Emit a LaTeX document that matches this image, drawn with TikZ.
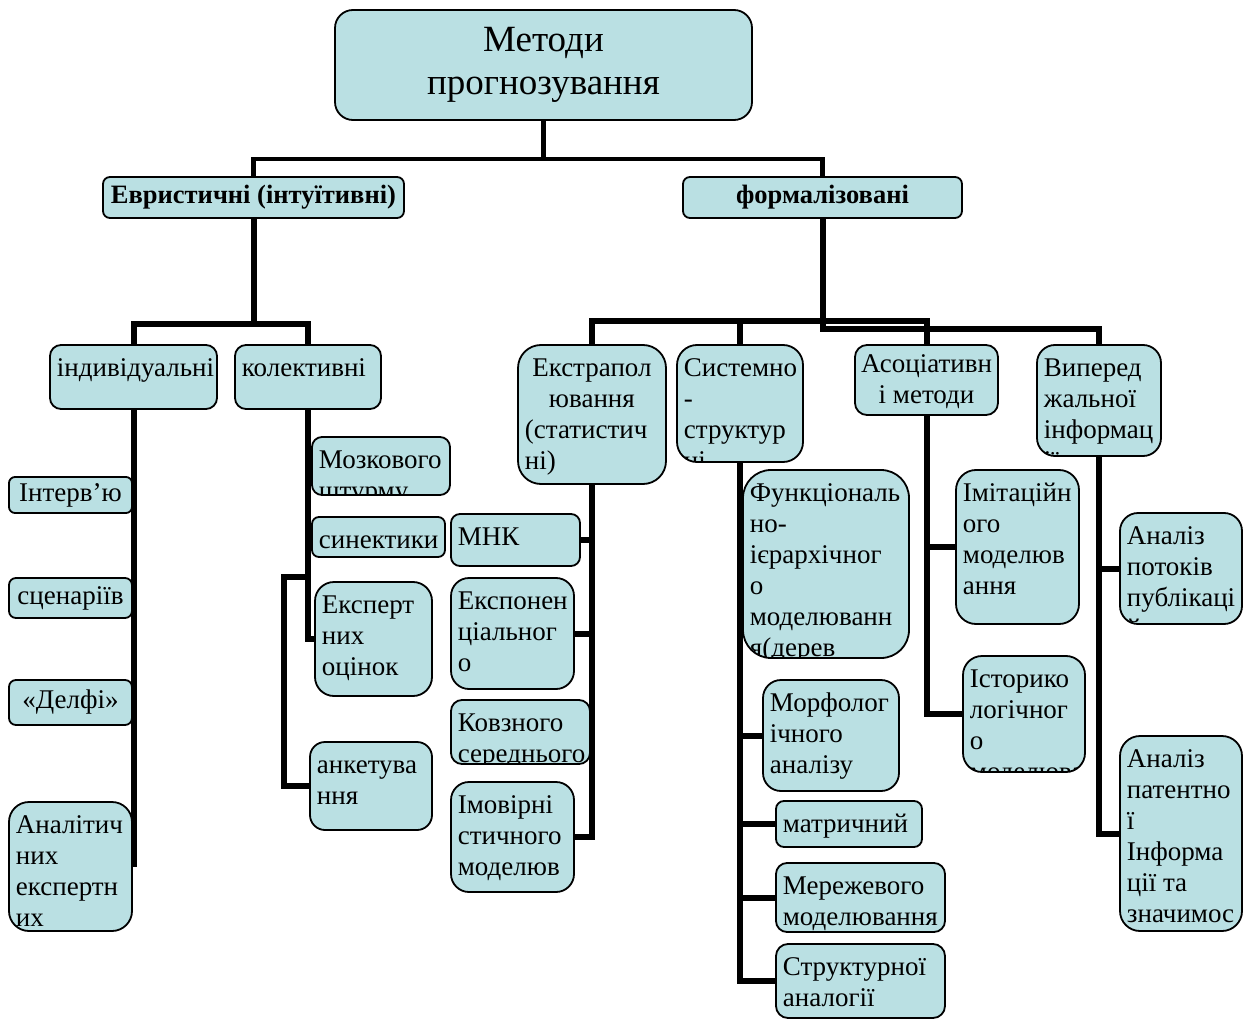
\documentclass[tikz,border=0pt]{standalone}
\usepackage{fontspec}
\setmainfont{Liberation Serif}
\usetikzlibrary{fit,calc}
\definecolor{boxfill}{RGB}{186,224,227}

\begin{document}
\begin{tikzpicture}[x=1pt, y=-1pt,
  box/.style={draw, line width=1.8pt, fill=boxfill, inner sep=0pt, rounded corners=#1pt},
  lbl/.style={inner sep=0pt, minimum width=0pt, minimum height=0pt, text width=, text height=, text depth=,
              align=left, font=\fontsize{27}{31}\selectfont},
  txt/.style={path picture={\node[lbl, anchor=north west] at ([shift={(6pt,-9pt)}]path picture bounding box.north west) {\strut #1};}},
  ctxt/.style={path picture={\node[lbl, align=center] at (path picture bounding box.center) {\strut #1};}},
  head/.style={font=\bfseries\fontsize{26.5}{30}\selectfont},
  vh/.style={to path={|- (\tikztotarget)}},
  link/.style={line width=6pt},
  top link/.style={line width=4.5pt}]

\useasboundingbox (0,0) rectangle (1248,1019);

% top levels
\node[box=18, fit={(335,10) (752,120)},
      label={[align=center, font=\fontsize{37}{43}\selectfont]center:{Методи\\прогнозування}}] (M) {};
\node[box=7, fit={(103,177) (404,218)}, label={[head]center:Евристичні (інтуїтивні)}] (E) {};
\node[box=7, fit={(683,177) (962,218)}, label={[head]center:формалізовані}] (F) {};

\node[box=11, fit={(50,345) (217,409)},   txt={індивідуальні}] (I) {};
\node[box=11, fit={(235,345) (381,409)},  txt={колективні}] (K) {};
\node[box=23, fit={(518,345) (666,484)},  txt={\parbox[t]{134pt}{\centering Екстрапол\\ювання\endgraf\raggedright (статистич\\ні)}}] (X) {};
\node[box=20, fit={(677,345) (803,462)},  txt={Системно\\-\\структур\\ні}] (S) {};
\node[box=12, fit={(855,345) (998,415)},  ctxt={Асоціативн\\і методи}] (A) {};
\node[box=18, fit={(1037,345) (1161,456)}, txt={Виперед\\жальної\\інформац\\ії}] (V) {};

% individual
\node[box=6,  fit={(9,477) (132,513)}, ctxt={Інтерв’ю}] (I1) {};
\node[box=7,  fit={(9,578) (132,618)}, ctxt={сценаріїв}] (I2) {};
\node[box=7,  fit={(9,680) (132,725)}, ctxt={«Делфі»}] (I3) {};
\node[box=20, fit={(9,802) (132,931)}, txt={Аналітич\\них\\експертн\\их}] (I4) {};

% collective
\node[box=10, fit={(312,437) (450,495)}, txt={Мозкового\\штурму}] (K1) {};
\node[box=7,  fit={(312,517) (445,557)}, txt={синектики}] (K2) {};
\node[box=19, fit={(315,582) (432,696)}, txt={Експерт\\них\\оцінок}] (K3) {};
\node[box=15, fit={(310,742) (432,830)}, txt={анкетува\\ння}] (K4) {};

% extrapolation
\node[box=9,  fit={(451,514) (580,566)}, txt={МНК}] (X1) {};
\node[box=18, fit={(451,578) (574,689)}, txt={Експонен\\ціальног\\о}] (X2) {};
\node[box=11, fit={(451,700) (590,764)}, txt={Ковзного\\середнього}] (X3) {};
\node[box=18, fit={(451,782) (574,892)}, txt={Імовірні\\стичного\\моделюв}] (X4) {};

% system-structural
\node[box=28, fit={(743,470) (909,658)}, txt={Функціональ\\но-\\ієрархічног\\о\\моделюванн\\я(дерев}] (S1) {};
\node[box=18, fit={(763,680) (899,791)}, txt={Морфолог\\ічного\\аналізу}] (S2) {};
\node[box=8,  fit={(776,801) (922,847)}, txt={матричний}] (S3) {};
\node[box=11, fit={(776,863) (945,932)}, txt={Мережевого\\моделювання}] (S4) {};
\node[box=12, fit={(776,944) (945,1018)}, txt={Структурної\\аналогії}] (S5) {};

% associative
\node[box=20, fit={(956,470) (1079,624)}, txt={Імітаційн\\ого\\моделюв\\ання}] (A1) {};
\node[box=19, fit={(963,656) (1085,772)}, txt={Історико\\логічног\\о\\моделювання}] (A2) {};

% advance information
\node[box=18, fit={(1120,513) (1242,624)}, txt={Аналіз\\потоків\\публікаці\\й}] (V1) {};
\node[box=20, fit={(1120,736) (1242,931)}, txt={Аналіз\\патентно\\ї\\Інформа\\ції та\\значимос}] (V2) {};

\draw[top link] (M.south) -- ++(0,38) coordinate (m);
\draw[top link] (E.north) |- (m) -| (F.north);

\draw[link] (E.south) -- ++(0,105) coordinate (e);
\draw[link] (I.north) |- (e) -| (K.north);
\draw[link] (F.south) -- ++(0,110) -| (V.north);
\draw[link] (X.north) -- ++(0,-23) -| (A.north);
\draw[link] (S.north) -- ++(0,-23);

\draw[link] ($(K.south)+(0,167)$) -- ++(-24,0) |- (K4.west);

\path[link]
      (I.south)  edge             (I.south |- I4.east)
      (K.south)  edge [vh]        (K3.west)
      (X.south)  edge [vh]        (X4.east)
      (X1.east)  edge             (X1.east -| X.south)
      (X2.east)  edge             (X2.east -| X.south)
      (S.south)  edge [vh]        (S5.west)
      (S2.west)  edge             (S2.west -| S.south)
      (S3.west)  edge             (S3.west -| S.south)
      (S4.west)  edge             (S4.west -| S.south)
      (A.south)  edge [vh]        (A2.west)
      (A1.west)  edge             (A1.west -| A.south)
      (V.south)  edge [vh]        (V2.west)
      (V1.west)  edge             (V1.west -| V.south);
\end{tikzpicture}
\end{document}
